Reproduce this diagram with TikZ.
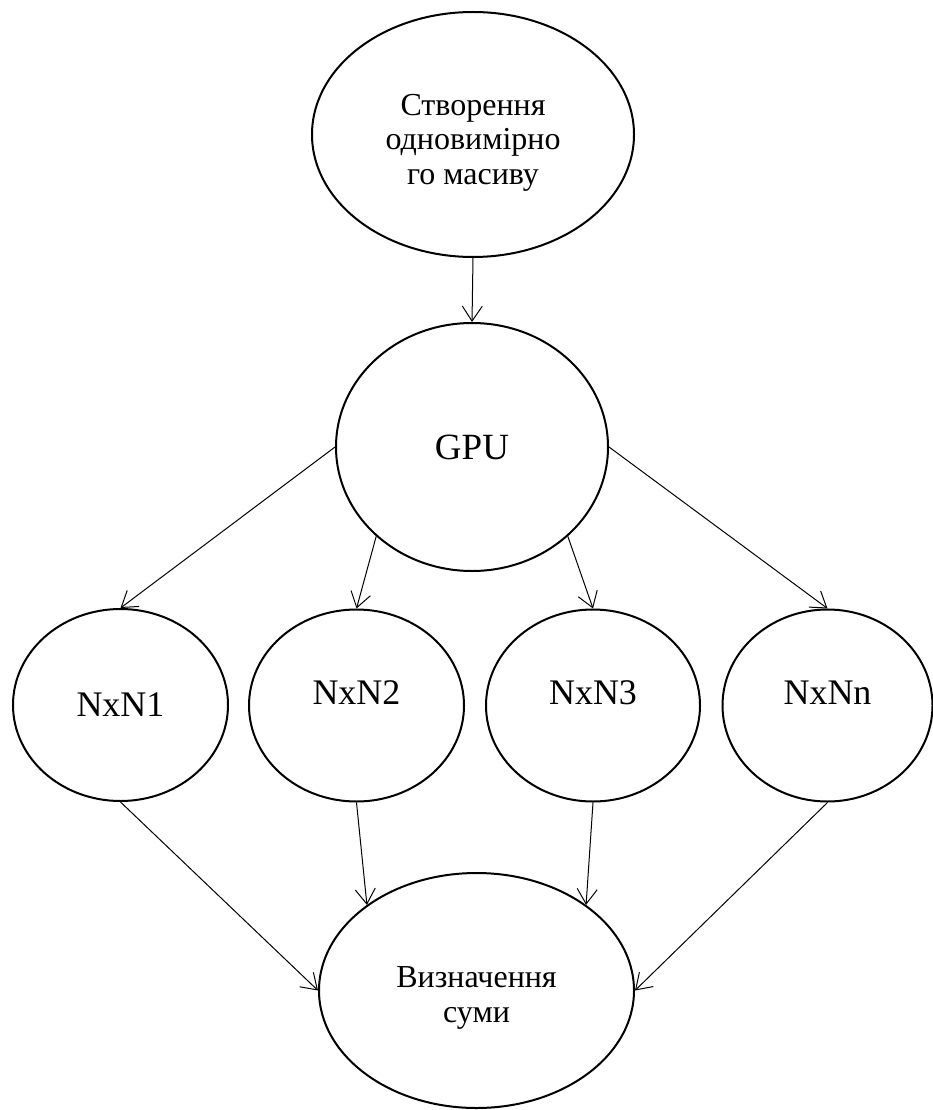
\documentclass[tikz,border=0pt]{standalone}
\usepackage{fontspec}
\setmainfont{Liberation Serif}
\usetikzlibrary{arrows.meta,shapes.geometric}

\begin{document}
\begin{tikzpicture}[x=1pt,y=-1pt,
  oval/.style={draw, ellipse, line width=2pt, inner sep=0pt, align=center},
  flow/.style={line width=1pt, -{Straight Barb[length=15pt,width=20pt]}},
  raised/.style={text height=24pt, text depth=26pt}
]
\useasboundingbox (0,0) rectangle (933,1110);

% top: array creation
\node[oval, minimum width=322pt, minimum height=245pt,
      font=\fontsize{32}{34.5}\selectfont] (make) at (473,134.5)
  {\rule{0pt}{37pt}Створення\\одновимірно\\го масиву};

% GPU
\node[oval, minimum width=272pt, minimum height=248pt,
      font=\fontsize{37}{40}\selectfont] (gpu) at (472,447) {GPU};

% blocks
\node[oval, minimum width=215pt, minimum height=192pt,
      font=\fontsize{36}{40}\selectfont] (n1) at (120.5,705) {NxN1};
\node[oval, raised, minimum width=215pt, minimum height=192pt,
      font=\fontsize{36}{40}\selectfont] (n2) at (356.5,705.5) {NxN2};
\node[oval, raised, minimum width=214pt, minimum height=192pt,
      font=\fontsize{36}{40}\selectfont] (n3) at (593,705.5) {NxN3};
\node[oval, raised, minimum width=210pt, minimum height=192pt,
      font=\fontsize{36}{40}\selectfont] (nn) at (827.5,705.5) {NxNn};

% bottom: sum
\node[oval, minimum width=315pt, minimum height=235pt,
      font=\fontsize{32}{35}\selectfont] (sum) at (476.5,990.5)
  {\rule{0pt}{35pt}Визначення\\суми};

% connectors
\draw[flow] (make.south) -- (gpu.north);
\draw[flow] (gpu.west) -- (n1.north);
\draw[flow] (gpu.-137) -- (n2.north);
\draw[flow] (gpu.-43) -- (n3.north);
\draw[flow] (gpu.east) -- (nn.north);
\draw[flow] (n1.south) -- (sum.west);
\draw[flow] (n2.south) -- (sum.142);
\draw[flow] (n3.south) -- (sum.38);
\draw[flow] (nn.south) -- (sum.east);
\end{tikzpicture}
\end{document}
